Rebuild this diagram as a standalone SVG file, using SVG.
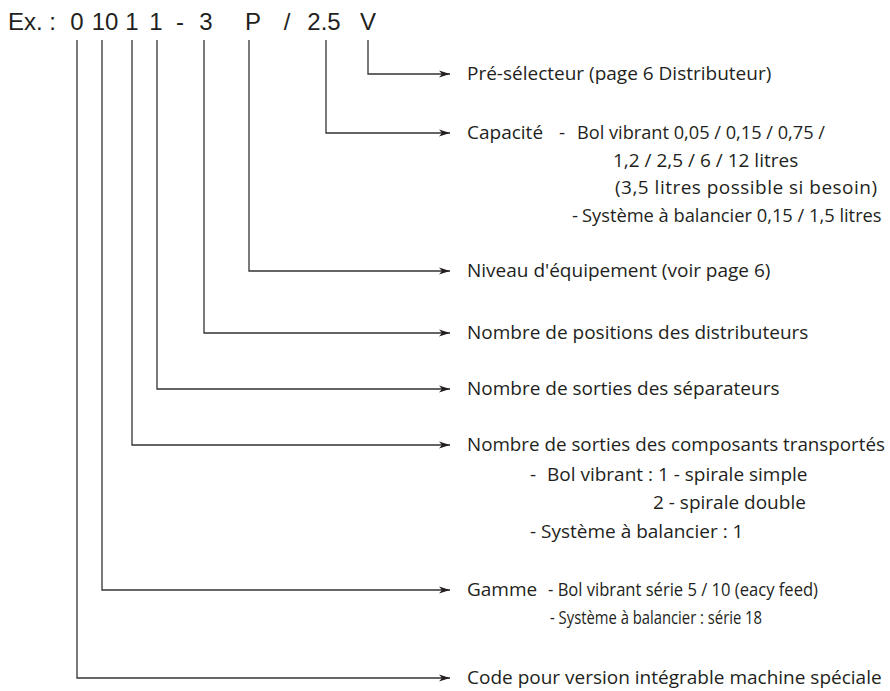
<svg xmlns="http://www.w3.org/2000/svg" width="890" height="691" viewBox="0 0 890 691">
<style>
.hdr{font-family:"Liberation Sans",Arial,sans-serif;font-size:24px;fill:#231f20}
.t{font-family:"Open Sans","Noto Sans",sans-serif;font-size:19px;fill:#231f20}
.c{fill:none;stroke:#333;stroke-width:1.3}
</style>
<defs>
<marker id="ah" markerWidth="12" markerHeight="8" refX="11" refY="4" orient="auto" markerUnits="userSpaceOnUse">
<path d="M0,0.5 L11,4 L0,7.5 L3,4 Z" fill="#231f20"/>
</marker>
</defs>
<g id="header" class="hdr">
<text x="8" y="30">Ex. :</text>
<text x="77" y="30" text-anchor="middle">0</text>
<text x="105" y="30" text-anchor="middle">10</text>
<text x="132" y="30" text-anchor="middle">1</text>
<text x="156" y="30" text-anchor="middle">1</text>
<text x="180" y="30" text-anchor="middle">-</text>
<text x="206" y="30" text-anchor="middle">3</text>
<text x="253" y="30" text-anchor="middle">P</text>
<text x="287" y="30" text-anchor="middle">/</text>
<text x="324" y="30" text-anchor="middle">2.5</text>
<text x="368" y="30" text-anchor="middle">V</text>
</g>
<g id="connectors">
<path class="c" d="M368,40 V74 H450" marker-end="url(#ah)"/>
<path class="c" d="M326,40 V133 H450" marker-end="url(#ah)"/>
<path class="c" d="M249,40 V271 H450" marker-end="url(#ah)"/>
<path class="c" d="M204,40 V333 H450" marker-end="url(#ah)"/>
<path class="c" d="M157,40 V389 H450" marker-end="url(#ah)"/>
<path class="c" d="M132,40 V445 H450" marker-end="url(#ah)"/>
<path class="c" d="M102,40 V590 H450" marker-end="url(#ah)"/>
<path class="c" d="M77,40 V678 H450" marker-end="url(#ah)"/>
</g>
<g id="preselecteur" class="t">
<text x="467" y="80">Pré-sélecteur (page 6 Distributeur)</text>
</g>
<g id="capacite" class="t">
<text x="467" y="139">Capacité</text>
<text x="559" y="139">-</text>
<text x="577" y="139" textLength="248" lengthAdjust="spacingAndGlyphs">Bol vibrant 0,05 / 0,15 / 0,75 /</text>
<text x="613" y="167">1,2 / 2,5 / 6 / 12 litres</text>
<text x="615" y="194" textLength="262" lengthAdjust="spacing">(3,5 litres possible si besoin)</text>
<text x="572" y="222">-</text>
<text x="582" y="222" style="font-size:18.3px">Système à balancier 0,15 / 1,5 litres</text>
</g>
<g id="niveau" class="t">
<text x="467" y="277">Niveau d'équipement (voir page 6)</text>
</g>
<g id="positions" class="t">
<text x="467" y="339">Nombre de positions des distributeurs</text>
</g>
<g id="separateurs" class="t">
<text x="467" y="395">Nombre de sorties des séparateurs</text>
</g>
<g id="composants" class="t">
<text x="467" y="451" textLength="418" lengthAdjust="spacingAndGlyphs">Nombre de sorties des composants transportés</text>
<text x="530" y="481">-</text>
<text x="547" y="481">Bol vibrant : 1 - spirale simple</text>
<text x="653" y="509">2 - spirale double</text>
<text x="530" y="538">- Système à balancier : 1</text>
</g>
<g id="gamme" class="t">
<text x="467" y="596">Gamme</text>
<text x="548" y="596" textLength="270" lengthAdjust="spacingAndGlyphs">- Bol vibrant série 5 / 10 (eacy feed)</text>
<text x="550" y="624" textLength="212" lengthAdjust="spacingAndGlyphs">- Système à balancier : série 18</text>
</g>
<g id="code" class="t">
<text x="467" y="684">Code pour version intégrable machine spéciale</text>
</g>
</svg>
